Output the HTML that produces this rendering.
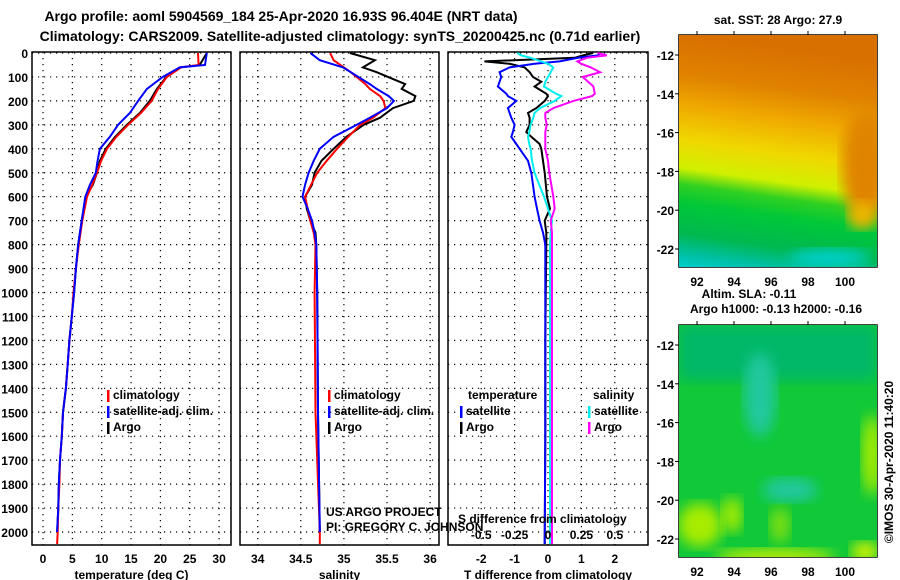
<!DOCTYPE html>
<html><head><meta charset="utf-8"><style>
body{margin:0;background:#fff}
svg{display:block;font-family:"Liberation Sans",sans-serif}
.b{font-weight:bold;font-size:12px}
</style></head><body>
<svg id="c" width="900" height="580" viewBox="0 0 900 580">
<defs>
<linearGradient id="sst" x1="0.06" y1="0" x2="-0.06" y2="1">
<stop offset="0" stop-color="#d87000"/><stop offset="0.17" stop-color="#e08200"/>
<stop offset="0.3" stop-color="#f0a800"/><stop offset="0.45" stop-color="#f0d800"/>
<stop offset="0.57" stop-color="#d0f000"/><stop offset="0.64" stop-color="#30d020"/>
<stop offset="0.72" stop-color="#00c838"/><stop offset="0.85" stop-color="#00b850"/>
<stop offset="0.94" stop-color="#00c0a8"/>
<stop offset="1" stop-color="#00d0d0"/></linearGradient>
<filter id="bl"><feGaussianBlur stdDeviation="7"/></filter>
<clipPath id="m1"><rect x="679" y="35" width="198" height="232"/></clipPath>
<clipPath id="m2"><rect x="679" y="325" width="198" height="232"/></clipPath>
</defs>
<text x="281" y="21" text-anchor="middle" font-weight="bold" font-size="14">Argo profile: aoml 5904569_184 25-Apr-2020 16.93S 96.404E (NRT data)</text>
<text x="340" y="41" text-anchor="middle" font-weight="bold" font-size="14">Climatology: CARS2009. Satellite-adjusted climatology: synTS_20200425.nc (0.71d earlier)</text>
<g id="plots"></g>
<g id="maps">
<g clip-path="url(#m1)">
<rect x="679" y="35" width="198" height="232" fill="url(#sst)"/>
<ellipse cx="866" cy="165" rx="24" ry="55" fill="#e08400" filter="url(#bl)"/>
<ellipse cx="862" cy="215" rx="14" ry="14" fill="#f0b800" filter="url(#bl)"/>
<ellipse cx="830" cy="258" rx="40" ry="9" fill="#00d0d0" filter="url(#bl)"/>
</g>
<g clip-path="url(#m2)">
<rect x="679" y="325" width="198" height="232" fill="#10c838"/>
<rect x="679" y="325" width="198" height="55" fill="#00b868" filter="url(#bl)"/>
<ellipse cx="760" cy="395" rx="16" ry="42" fill="#20c8a0" filter="url(#bl)"/>
<ellipse cx="790" cy="490" rx="28" ry="12" fill="#20c8a0" filter="url(#bl)"/>
<ellipse cx="700" cy="525" rx="22" ry="22" fill="#a8ec00" filter="url(#bl)"/>
<ellipse cx="732" cy="515" rx="10" ry="18" fill="#a8ec00" filter="url(#bl)"/>
<ellipse cx="780" cy="525" rx="10" ry="18" fill="#80e010" filter="url(#bl)"/>
<ellipse cx="775" cy="557" rx="60" ry="8" fill="#c8f000" filter="url(#bl)"/>
<ellipse cx="872" cy="455" rx="10" ry="40" fill="#a8ec00" filter="url(#bl)"/>
<ellipse cx="865" cy="552" rx="14" ry="10" fill="#d8f400" filter="url(#bl)"/>
</g>
</g>
</svg>
<script>
// ===== data =====
const depthT=[0,50,60,100,150,200,250,300,350,400,450,500,550,600,700,800,900,1000,1100,1200,1300,1400,1500,1600,1700,1800,1900,2000];
const tempArgo=[27.9,26.7,23.3,21.0,19.4,18.2,16.5,14.3,12.3,10.7,9.7,9.2,8.5,7.3,6.6,6.0,5.6,5.3,4.9,4.5,4.2,3.9,3.4,3.2,2.9,2.7,2.6,2.4];
const tempClim=[26.4,26.5,23.5,21.1,19.6,18.5,16.7,14.5,12.5,10.9,9.9,9.2,8.4,7.5,6.7,6.1,5.6,5.2,4.9,4.5,4.2,3.9,3.4,3.2,2.9,2.8,2.6,2.5];
const tempSat=[27.9,27.6,23.3,20.4,17.7,16.2,14.8,12.8,11.4,9.7,9.3,9.0,8.0,7.2,6.6,6.0,5.6,5.3,4.9,4.5,4.2,3.9,3.4,3.2,2.9,2.7,2.6,2.4];
const depthS=[0,30,60,80,130,150,180,200,230,270,300,350,400,450,500,550,600,650,700,750,800,1000,1500,2000];
const salArgo=[35.07,35.36,35.22,35.38,35.71,35.67,35.83,35.81,35.57,35.42,35.23,35.03,34.88,34.74,34.66,34.63,34.55,34.57,34.61,34.67,34.68,34.69,34.70,34.72];
const salClim=[34.84,34.88,35.0,35.08,35.25,35.3,35.42,35.46,35.48,35.34,35.19,35.05,34.92,34.8,34.69,34.62,34.55,34.58,34.61,34.65,34.67,34.66,34.67,34.72];
const salSat=[34.61,34.72,34.99,35.08,35.3,35.38,35.52,35.58,35.5,35.3,35.15,34.88,34.72,34.65,34.59,34.55,34.52,34.58,34.63,34.66,34.68,34.69,34.70,34.72];
const depthD=[0,10,20,35,45,60,80,100,120,140,170,180,200,230,250,270,300,330,350,380,400,450,500,600,650,700,750,800,1200,1600,2050];
const dTArgo=[1.35,1.05,0.8,-1.9,-1.15,-0.7,-0.55,-0.45,-0.2,-0.4,-0.05,0,-0.1,-0.35,-0.6,-0.55,-0.55,-0.65,-0.5,-0.25,-0.2,-0.15,-0.1,-0.03,0.06,-0.1,-0.05,-0.05,-0.08,-0.08,-0.1];
const dTSat=[1.55,1.5,0.9,0.35,-0.4,-1.15,-1.45,-1.4,-1.45,-1.5,-1.25,-1.2,-0.95,-1.2,-1.15,-1.1,-1.0,-1.05,-1.1,-0.95,-0.85,-0.6,-0.5,-0.4,-0.33,-0.25,-0.15,-0.08,-0.08,-0.08,-0.1];
const dSSat=[-0.23,-0.2,-0.13,-0.05,0.0,0.04,0.02,0,-0.02,-0.03,0.06,0.1,0.05,-0.06,-0.1,-0.11,-0.13,-0.14,-0.15,-0.14,-0.13,-0.12,-0.1,-0.03,0,0.03,0.02,0.015,0.015,0.015,0.015];
const dSArgo=[0.37,0.44,0.29,0.22,0.25,0.32,0.39,0.26,0.3,0.34,0.35,0.33,0.19,0.04,-0.02,-0.02,-0.01,-0.02,-0.02,-0.02,-0.02,0.0,0.01,0.04,0.05,0.02,0.03,0.03,0.03,0.03,0.03];
const depthTicks=[0,100,200,300,400,500,600,700,800,900,1000,1100,1200,1300,1400,1500,1600,1700,1800,1900,2000];
const tTicks=[0,5,10,15,20,25,30];
const sTicks=[34,34.5,35,35.5,36];
const dTTicks=[-2,-1,0,1,2];
const dSTicks=[-0.5,-0.25,0,0.25,0.5];
const lonTicks=[92,94,96,98,100];
const latTicks=[-12,-14,-16,-18,-20,-22];
const floatLon=96.404, floatLat=-16.93;

// ===== scales =====
const NS="http://www.w3.org/2000/svg";
const Y0=52,Y1=545;
const yD=d=>53+d*0.2395;
const xT=t=>43+t*5.87;
const xS=s=>257.7+(s-34)*86.2;
const xDT=v=>548+v*33.4;
const xDS=v=>548+v*133.6;
const xLon=l=>697+(l-92)*18.5;
const yLat1=l=>55+(-12-l)*19.4;
const yLat2=l=>345+(-12-l)*19.4;
const root=document.getElementById('plots');
function el(tag,attrs,parent){const e=document.createElementNS(NS,tag);for(const k in attrs)e.setAttribute(k,attrs[k]);(parent||root).appendChild(e);return e;}
function txt(x,y,s,cls,anchor,parent){const t=el('text',{x:x,y:y,class:cls||'b','text-anchor':anchor||'middle'},parent);t.textContent=s;return t;}

function panel(name,x0,x1,xs,ticks,fmt,label){
  const g=el('g',{});
  
  
  depthTicks.forEach(d=>{el('line',{x1:x0,x2:x1,y1:yD(d),y2:yD(d),stroke:'#000','stroke-width':1.2,'stroke-dasharray':'1.2,4.8'},g);});
  ticks.forEach(v=>{const x=xs(v);el('line',{x1:x,x2:x,y1:Y0,y2:Y1,stroke:'#000','stroke-width':1.2,'stroke-dasharray':'1.2,4.8'},g);
    if(fmt){const t=txt(x,563,fmt(v),'b','middle',g);}});
  el('rect',{x:x0,y:Y0,width:x1-x0,height:Y1-Y0,fill:'none',stroke:'#000','stroke-width':1.5},g);
  const l=txt((x0+x1)/2,579,label,'b','middle',g);
  
  
  return g;
}
function series(g,name,ds,vs,xs,color){
  const pts=ds.map((d,i)=>xs(vs[i]).toFixed(1)+','+yD(d).toFixed(1)).join(' ');
  const p=el('polyline',{points:pts,fill:'none',stroke:color,'stroke-width':2},g);
  
  
}
function legend(g,x,y,color,label){
  el('rect',{x:x,y:y-9,width:2.5,height:12,fill:color},g);
  const t=txt(x+6,y,label,'b','start',g);
  
  
}

// panel 1: temperature
const g1=panel('temperature-panel',32,231,xT,tTicks,v=>String(v),'temperature (deg C)');
depthTicks.forEach(d=>{const t=txt(28,yD(d)+5,String(d),'b','end',g1);
  
  });
series(g1,'temp-argo-line',depthT,tempArgo,xT,'#000');
series(g1,'temp-clim-line',depthT.concat([2050]),tempClim.concat([2.4]),xT,'#f00');
series(g1,'temp-sat-line',depthT,tempSat,xT,'#00f');
legend(g1,107,399,'#f00','climatology');legend(g1,107,415,'#00f','satellite-adj. clim.');legend(g1,107,431,'#000','Argo');

// panel 2: salinity
const g2=panel('salinity-panel',240,439,xS,sTicks,v=>String(v),'salinity');
series(g2,'sal-argo-line',depthS,salArgo,xS,'#000');
series(g2,'sal-clim-line',depthS.concat([2050]),salClim.concat([34.72]),xS,'#f00');
series(g2,'sal-sat-line',depthS,salSat,xS,'#00f');
legend(g2,328,399,'#f00','climatology');legend(g2,328,415,'#00f','satellite-adj. clim.');legend(g2,328,431,'#000','Argo');
const c1=txt(326,516,'US ARGO PROJECT','','start',g2);c1.setAttribute('font-size','13.5');


const c2=txt(326,531,'PI: GREGORY C. JOHNSON','','start',g2);c2.setAttribute('font-size','13.5');



// panel 3: differences
const g3=panel('difference-panel',448,648,xDT,dTTicks,v=>String(v),'T difference from climatology');
series(g3,'dt-argo-line',depthD,dTArgo,xDT,'#000');
series(g3,'dt-sat-line',depthD,dTSat,xDT,'#00f');
series(g3,'ds-sat-line',depthD,dSSat,xDS,'#0ee');
series(g3,'ds-argo-line',depthD,dSArgo,xDS,'#f0f');
txt(468,399,'temperature','b','start',g3);txt(593,399,'salinity','b','start',g3);
legend(g3,460,415,'#00f','satellite');legend(g3,460,431,'#000','Argo');
legend(g3,588,415,'#0ee','satellite');legend(g3,588,431,'#f0f','Argo');
const st=txt(458,523,'S difference from climatology','b','start',g3);


dSTicks.forEach(v=>{const t=txt(xDS(v),539,String(v),'b','middle',g3);
  
  });

// maps
function mapFrame(yTop,yl){
  const g=el('g',{});
  
  
  el('rect',{x:679,y:yTop,width:198,height:232,fill:'none',stroke:'#000','stroke-width':1.5},g);
  lonTicks.forEach(l=>{const x=xLon(l);el('line',{x1:x,x2:x,y1:yTop,y2:yTop-4,stroke:'#000'},g);
    txt(x,yTop+251,String(l),'b','middle',g);});
  latTicks.forEach(l=>{const y=yl(l);el('line',{x1:679,x2:675,y1:y,y2:y,stroke:'#000'},g);
    txt(674,y+5,String(l),'b','end',g);});
  el('circle',{cx:xLon(floatLon),cy:yl(floatLat),r:4.5,fill:'none',stroke:'#000','stroke-width':1.2},g);
  el('rect',{x:xLon(96.85),y:yl(-12.15),width:2,height:2,fill:'#000'},g);
}
mapFrame(35,yLat1);
mapFrame(325,yLat2);
const mt=txt(778,24,'sat. SST: 28 Argo: 27.9','b','middle');


const ma=txt(749,298,'Altim. SLA: -0.11','b','middle');


const mh=txt(776,313,'Argo h1000: -0.13 h2000: -0.16','b','middle');


const im=txt(0,0,'©IMOS 30-Apr-2020 11:40:20','','middle');
im.setAttribute('font-size','13');
im.setAttribute('transform','translate(893,462) rotate(-90)');


</script>
</body></html>
